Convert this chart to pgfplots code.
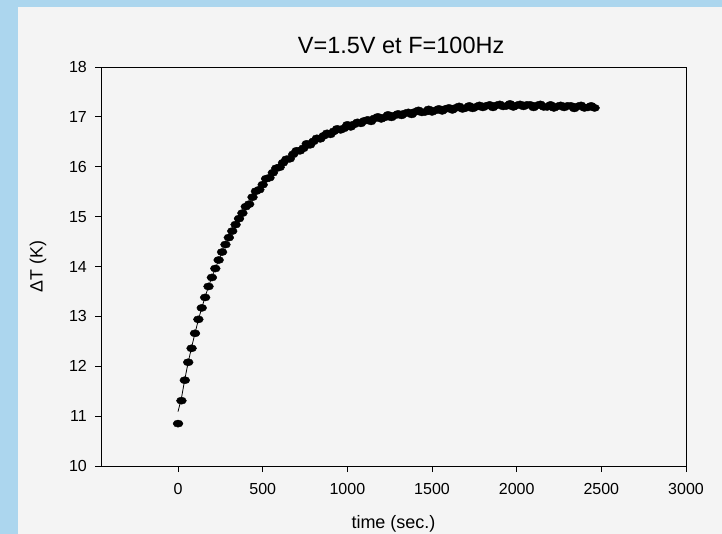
\documentclass[border=0pt]{standalone}
\usepackage{fontspec}
\setmainfont{Liberation Sans}
\usepackage{pgfplots}
\pgfplotsset{compat=1.18}
\usepackage{pgfplotstable}
\definecolor{bluebg}{RGB}{172,214,238}
\definecolor{panel}{RGB}{244,244,244}
\pgfplotstableread{
t T
0 10.85
20 11.31
40 11.72
60 12.08
80 12.36
100 12.66
120 12.94
140 13.17
160 13.38
180 13.60
200 13.78
220 13.96
240 14.13
260 14.29
280 14.44
300 14.58
320 14.71
340 14.84
360 14.96
380 15.07
400 15.20
420 15.25
440 15.39
460 15.51
480 15.54
500 15.64
520 15.76
540 15.78
560 15.88
580 15.97
600 15.99
620 16.08
640 16.15
660 16.16
680 16.25
700 16.32
720 16.32
740 16.37
760 16.46
780 16.44
800 16.51
820 16.57
840 16.56
860 16.62
880 16.67
900 16.65
920 16.71
940 16.76
960 16.74
980 16.77
1000 16.84
1020 16.80
1040 16.85
1060 16.89
1080 16.87
1100 16.92
1120 16.94
1140 16.91
1160 16.97
1180 17.00
1200 16.96
1220 16.99
1240 17.04
1260 16.99
1280 17.03
1300 17.06
1320 17.03
1340 17.07
1360 17.09
1380 17.05
1400 17.10
1420 17.13
1440 17.09
1460 17.10
1480 17.15
1500 17.10
1520 17.13
1540 17.16
1560 17.12
1580 17.16
1600 17.18
1620 17.14
1640 17.18
1660 17.21
1680 17.16
1700 17.18
1720 17.22
1740 17.17
1760 17.20
1780 17.23
1800 17.19
1820 17.22
1840 17.24
1860 17.19
1880 17.23
1900 17.25
1920 17.21
1940 17.22
1960 17.26
1980 17.20
2000 17.23
2020 17.25
2040 17.21
2060 17.24
2080 17.24
2100 17.19
2120 17.23
2140 17.25
2160 17.20
2180 17.20
2200 17.24
2220 17.18
2240 17.21
2260 17.23
2280 17.19
2300 17.22
2320 17.22
2340 17.17
2360 17.21
2380 17.23
2400 17.18
2420 17.19
2440 17.22
2460 17.18
}\datatable
\pgfplotstableread{
t T
0 11.09
20 11.36
40 11.74
60 12.08
80 12.38
100 12.66
120 12.93
140 13.17
160 13.39
180 13.60
200 13.79
240 14.13
300 14.58
400 15.18
500 15.65
600 16.01
700 16.29
800 16.51
900 16.68
1000 16.81
1200 16.98
1400 17.09
1600 17.16
1800 17.21
2000 17.23
2200 17.21
2460 17.20
}\fittable
\begin{document}
\begin{tikzpicture}
\fill[bluebg] (0,0) rectangle (722bp,534bp);
\fill[panel] (18bp,0) rectangle (722bp,526.5bp);
\begin{axis}[
  at={(101bp,68bp)}, anchor=south west,
  scale only axis, width=585bp, height=399bp,
  xmin=-455, xmax=3000, ymin=10, ymax=18,
  xtick={0,500,...,3000}, ytick={10,11,...,18},
  tick align=outside, xtick pos=lower, ytick pos=left,
  major tick length=6bp,
  tick style={black, line width=0.8bp},
  axis line style={line width=0.8bp},
  /pgf/number format/assume math mode=true,
  /pgf/number format/1000 sep={},
  ticklabel style={font=\fontsize{16bp}{18bp}\selectfont},
  yticklabel style={anchor=east, inner sep=0pt, xshift=-8bp},
  xticklabel style={anchor=north, inner sep=0pt, yshift=-11bp},
  title={V=1.5V et F=100Hz},
  title style={font=\fontsize{23.5bp}{26bp}\selectfont, at={(axis description cs:0.513,1.040)}, anchor=center},
  xlabel={time (sec.)},
  xlabel style={font=\fontsize{18bp}{20bp}\selectfont, at={(axis description cs:0.5,-0.1445)}, anchor=center},
  ylabel={ΔT (K)},
  ylabel style={font=\fontsize{17.8bp}{20bp}\selectfont, at={(axis description cs:-0.1077,0.5)}, anchor=center},
]
\addplot[black, line width=0.8bp, no markers] table[x=t,y=T]{\fittable};
\addplot[only marks, mark=*, mark size=3.6bp, mark options={xscale=1.38, fill=black, draw=black}] table[x=t,y=T]{\datatable};
\end{axis}
\pgfresetboundingbox
\useasboundingbox (0,0) rectangle (722bp,534bp);
\end{tikzpicture}
\end{document}
